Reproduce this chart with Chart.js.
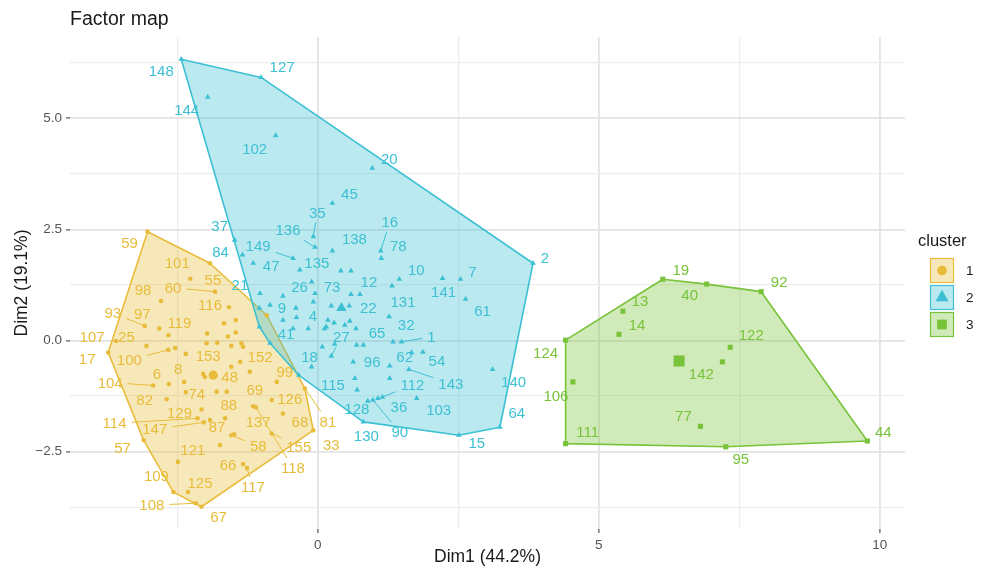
<!DOCTYPE html>
<html>
<head>
<meta charset="utf-8">
<script src="https://cdn.jsdelivr.net/npm/chart.js@4.4.1/dist/chart.umd.min.js"></script>
<style>
  html, body { margin: 0; padding: 0; background: #ffffff; }
  #wrap { width: 981px; height: 568px; }
</style>
</head>
<body>
<div id="wrap"><canvas id="factorMap" width="981" height="568"></canvas></div>
<script>
// ---- observations (Dim1, Dim2) per cluster; '' = name not printed ----
const cluster1Ids = ['59','101','98','93','97','119','107','17','25','100','','','55','60','116','','','','','','','','','','152','','','69','153','','','99','81','48','88','126','137','118','68','129','','87','58','','','155','33','66','117','67','104','6','8','74','82','114','147','57','121','109','125','108'];
const cluster1Dim1 = [-3.03,-2.27,-2.79,-3.08,-2.82,-2.66,-3.59,-3.73,-3.05,-2.66,-2.54,-2.35,-1.92,-1.83,-1.58,-1.46,-1.67,-1.97,-1.46,-1.60,-1.98,-1.79,-1.54,-1.36,-1.33,-1.54,-1.38,-1.21,-2.04,-2.01,-0.91,-0.73,-0.23,-1.80,-1.62,-0.82,-1.15,-1.10,-0.62,-2.07,-1.92,-1.65,-1.54,-1.49,-1.74,-0.82,-0.08,-1.33,-1.26,-2.07,-2.93,-2.65,-2.38,-2.35,-2.69,-2.14,-2.03,-3.10,-2.49,-2.57,-2.31,-2.17];
const cluster1Dim2 = [2.45,1.39,0.89,0.33,0.27,0.12,-0.01,-0.27,-0.12,-0.21,-0.17,-0.30,1.74,1.10,0.75,0.46,0.39,0.16,0.18,0.09,-0.06,-0.05,-0.12,-0.06,-0.14,-0.59,-0.48,-0.70,-0.75,-0.82,0.57,-0.93,-1.08,-1.15,-1.15,-1.34,-1.48,-1.50,-1.64,-1.55,-1.79,-1.75,-2.13,-2.11,-2.35,-2.09,-2.02,-2.78,-2.87,-3.74,-1.01,-0.98,-0.93,-1.16,-1.32,-1.75,-1.84,-2.24,-2.73,-3.41,-3.41,-3.66];

const cluster2Ids = ['148','127','144','102','20','45','2','141','7','61','140','64','15','130','35','136','138','149','16','78','','','10','131','26','73','12','','','','','22','4','','32','','','','','65','','41','1','','27','','','','','96','62','54','','143','115','','','112','36','90','103','128','18','37','84','47','135','21','9','','','','','',''];
const cluster2Dim1 = [-2.43,-1.01,-1.96,-0.75,0.97,0.26,3.83,2.22,2.54,2.63,3.11,3.24,2.51,0.81,-0.08,-0.05,0.26,-0.44,1.12,1.13,0.41,0.59,1.45,1.32,-0.11,-0.05,0.75,0.59,-0.62,-0.08,0.24,0.56,-0.39,-0.38,1.27,0.15,0.29,0.48,0.57,0.68,-0.17,-0.44,1.49,1.34,0.24,0.30,0.69,0.81,0.08,0.63,1.67,1.87,1.28,1.62,0.66,0.70,1.28,1.15,1.07,0.98,1.76,0.89,-0.11,-1.48,-1.34,-1.15,-0.32,-1.03,-0.85,-0.62,0.12,0.18,-1.04,-1.04,-0.85,-0.34];
const cluster2Dim2 = [6.33,5.92,5.48,4.61,3.88,3.09,1.74,1.40,1.38,0.93,-0.65,-1.95,-2.13,-1.83,2.34,2.10,2.02,1.85,2.02,1.85,1.57,1.57,1.38,1.23,1.32,1.06,1.04,1.04,1.00,0.87,0.78,0.78,0.73,0.52,0.54,0.31,0.40,0.35,0.44,0.27,0.27,0.27,-0.03,-0.03,-0.35,-0.08,-0.10,-0.10,-0.14,-0.48,-0.27,-0.26,-0.57,-0.65,-0.85,-1.11,-0.85,-1.27,-1.30,-1.34,-1.30,-1.36,-0.59,2.26,1.93,1.74,1.59,1.06,0.80,0.46,0.27,0.46,0.73,0.31,-0.06,-0.78];

const cluster3Ids = ['19','40','13','14','124','106','111','142','122','77','95','92','44'];
const cluster3Dim1 = [6.14,6.92,5.43,5.36,4.41,4.54,4.41,7.20,7.34,6.81,7.26,7.89,9.78];
const cluster3Dim2 = [1.38,1.27,0.66,0.14,0.01,-0.93,-2.32,-0.48,-0.15,-1.93,-2.39,1.10,-2.26];

// cluster centres
const clusterNames = ['1', '2', '3'];
const centreDim1 = [-1.86, 0.42, 6.43];
const centreDim2 = [-0.78, 0.73, -0.46];

// axis breaks
const xBreaks = [-2.5, 0, 2.5, 5, 7.5, 10];
const xLabelled = [0, 5, 10];
const yBreaks = [-3.75, -2.5, -1.25, 0, 1.25, 2.5, 3.75, 5, 6.25];
const yLabelled = [-2.5, 0, 2.5, 5];

// ---- layout of the repelled name labels (pixel offset from their point) ----
const labelNudge = {
  '59':[-18,11],'101':[-13,-16],'98':[-18,-11],'60':[-42,-4],'55':[3,17],'116':[-19,-2],'93':[-32,-13],'97':[-17,-15],
  '119':[11,-12],'107':[-24,-4],'25':[-20,-9],'17':[-21,6],'100':[-39,10],'153':[5,-18],'152':[17,10],'6':[-12,-10],
  '8':[-6,-13],'48':[13,-15],'104':[-43,-3],'82':[-22,1],'74':[11,2],'129':[-22,3],'114':[-83,5],'147':[-49,7],
  '57':[-21,8],'121':[15,-12],'109':[-17,-16],'125':[12,-9],'108':[-44,2],'67':[17,10],'69':[5,18],'88':[2,13],
  '99':[8,-10],'126':[18,-1],'137':[5,16],'68':[17,8],'81':[23,33],'87':[-8,9],'58':[27,11],'155':[27,13],
  '33':[18,15],'118':[37,61],'66':[-15,1],'117':[6,19],
  '148':[-20,12],'127':[21,-11],'144':[-21,13],'102':[-21,13],'20':[17,-9],'45':[17,-9],'35':[4,-24],'136':[-27,-17],
  '138':[22,-12],'16':[9,-29],'78':[17,-12],'149':[-35,-12],'135':[17,-7],'47':[18,3],'84':[-22,-3],'37':[-15,-14],
  '21':[-20,-9],'26':[-12,5],'73':[17,-7],'12':[9,-12],'10':[17,-9],'7':[12,-7],'141':[1,14],'61':[17,12],'2':[12,-5],
  '131':[11,16],'22':[19,2],'9':[12,3],'4':[17,8],'32':[17,8],'41':[-7,5],'65':[21,4],'1':[30,-5],'27':[10,-19],
  '18':[-2,-10],'96':[19,0],'62':[-7,4],'54':[14,9],'143':[42,14],'140':[21,12],'115':[-22,7],'112':[30,-12],
  '36':[21,9],'103':[22,12],'128':[-11,8],'130':[3,14],'90':[27,32],'15':[18,8],'64':[17,-14],
  '19':[18,-9],'40':[-17,11],'13':[17,-10],'14':[18,-9],'124':[-20,13],'106':[-17,14],'111':[22,-12],'142':[-21,12],
  '122':[21,-12],'77':[-17,-10],'95':[15,12],'92':[18,-10],'44':[16,-9]
};

// ---- styling ----
const FONT = "'Liberation Sans', Arial, Helvetica, sans-serif";
const colours = ['#E8BC3A', '#3DC0D3', '#78C33A'];
const fills = ['rgba(232,188,58,0.35)', 'rgba(61,192,211,0.35)', 'rgba(120,195,58,0.35)'];
const shapes = ['circle', 'triangle', 'rect'];
const pointSizes = [2.3, 3.3, 3.6];
const centreSizes = [4.6, 6.0, 7.8];

const clusters = [
  { ids: cluster1Ids, d1: cluster1Dim1, d2: cluster1Dim2 },
  { ids: cluster2Ids, d1: cluster2Dim1, d2: cluster2Dim2 },
  { ids: cluster3Ids, d1: cluster3Dim1, d2: cluster3Dim2 }
];
clusters.forEach(c => { c.points = c.d1.map((v, i) => ({ x: v, y: c.d2[i], id: c.ids[i] })); });

// convex hull (monotone chain) in data space
function convexHull(pts) {
  const p = pts.map(q => ({ x: q.x, y: q.y })).sort((a, b) => a.x - b.x || a.y - b.y);
  const cross = (o, a, b) => (a.x - o.x) * (b.y - o.y) - (a.y - o.y) * (b.x - o.x);
  const lower = [], upper = [];
  for (const q of p) {
    while (lower.length >= 2 && cross(lower[lower.length - 2], lower[lower.length - 1], q) <= 0) lower.pop();
    lower.push(q);
  }
  for (let i = p.length - 1; i >= 0; i--) {
    const q = p[i];
    while (upper.length >= 2 && cross(upper[upper.length - 2], upper[upper.length - 1], q) <= 0) upper.pop();
    upper.push(q);
  }
  upper.pop(); lower.pop();
  return lower.concat(upper);
}
clusters.forEach(c => { c.hull = convexHull(c.points); });

const datasets = [];
clusters.forEach((c, k) => {
  datasets.push({
    label: clusterNames[k], data: c.points, pointStyle: shapes[k],
    pointRadius: pointSizes[k], pointHoverRadius: pointSizes[k],
    backgroundColor: colours[k], borderColor: colours[k], borderWidth: 0, order: 2
  });
});
clusters.forEach((c, k) => {
  datasets.push({
    label: 'centre ' + clusterNames[k], data: [{ x: centreDim1[k], y: centreDim2[k] }], pointStyle: shapes[k],
    pointRadius: centreSizes[k], pointHoverRadius: centreSizes[k],
    backgroundColor: colours[k], borderColor: colours[k], borderWidth: 0, order: 1
  });
});

// hull polygons under the points
const hullPlugin = {
  id: 'hulls',
  beforeDatasetsDraw(chart) {
    const { ctx, chartArea: a, scales: { x, y } } = chart;
    ctx.save();
    ctx.beginPath(); ctx.rect(a.left, a.top, a.right - a.left, a.bottom - a.top); ctx.clip();
    clusters.forEach((c, k) => {
      ctx.beginPath();
      c.hull.forEach((q, i) => {
        const px = x.getPixelForValue(q.x), py = y.getPixelForValue(q.y);
        if (i === 0) ctx.moveTo(px, py); else ctx.lineTo(px, py);
      });
      ctx.closePath();
      ctx.fillStyle = fills[k]; ctx.fill();
      ctx.lineWidth = 1.6; ctx.strokeStyle = colours[k]; ctx.lineJoin = 'round'; ctx.stroke();
    });
    ctx.restore();
  }
};

// observation names with leader segments
const labelPlugin = {
  id: 'pointNames',
  afterDatasetsDraw(chart) {
    const { ctx, scales: { x, y } } = chart;
    ctx.save();
    ctx.font = `15px ${FONT}`;
    ctx.textAlign = 'center'; ctx.textBaseline = 'middle';
    clusters.forEach((c, k) => {
      c.points.forEach(q => {
        if (!q.id || !labelNudge[q.id]) return;
        const px = x.getPixelForValue(q.x), py = y.getPixelForValue(q.y);
        const [dx, dy] = labelNudge[q.id];
        const cx = px + dx, cy = py + dy;
        const hw = ctx.measureText(q.id).width / 2 + 5, hh = 10;
        const vx = px - cx, vy = py - cy;
        const t = Math.min(vx ? hw / Math.abs(vx) : Infinity, vy ? hh / Math.abs(vy) : Infinity);
        if (t < 1) {
          const ex = cx + vx * t, ey = cy + vy * t;
          const gap = Math.hypot(px - ex, py - ey);
          if (gap > 9) {
            ctx.beginPath(); ctx.moveTo(px, py); ctx.lineTo(ex, ey);
            ctx.lineWidth = 1; ctx.strokeStyle = colours[k]; ctx.stroke();
          }
        }
        ctx.fillStyle = colours[k];
        ctx.fillText(q.id, cx, cy + 1);
      });
    });
    ctx.restore();
  }
};

// plot title and cluster key
const decorPlugin = {
  id: 'decor',
  afterDraw(chart) {
    const { ctx } = chart;
    ctx.save();
    ctx.fillStyle = '#1a1a1a';
    ctx.font = `19.5px ${FONT}`;
    ctx.textAlign = 'left'; ctx.textBaseline = 'alphabetic';
    ctx.fillText('Factor map', 70, 25);

    ctx.font = `16.5px ${FONT}`;
    ctx.fillText('cluster', 918, 246);
    const bx = 930, bw = 24, bh = 25, by0 = 258;
    const keySizes = [4.8, 7.5, 6.8];
    clusterNames.forEach((name, k) => {
      const by = by0 + k * 27;
      ctx.fillStyle = fills[k];
      ctx.fillRect(bx, by, bw, bh);
      ctx.lineWidth = 1.2; ctx.strokeStyle = colours[k];
      ctx.strokeRect(bx + 0.5, by + 0.5, bw - 1, bh - 1);
      Chart.helpers.drawPoint(ctx, {
        pointStyle: shapes[k], radius: keySizes[k], rotation: 0, borderWidth: 0
      }, bx + bw / 2, by + bh / 2);
      ctx.fillStyle = colours[k];
      ctx.fill();
      ctx.fillStyle = '#1a1a1a';
      ctx.font = `13.5px ${FONT}`;
      ctx.textBaseline = 'middle';
      ctx.fillText(name, 966, by + bh / 2 + 1);
      ctx.textBaseline = 'alphabetic';
    });
    ctx.restore();
  }
};

const isIn = (arr, v) => arr.some(a => Math.abs(a - v) < 1e-9);
const fmtY = v => (v < 0 ? '\u2212' + Math.abs(v).toFixed(1) : v.toFixed(1));

new Chart(document.getElementById('factorMap'), {
  type: 'scatter',
  data: { datasets },
  options: {
    responsive: false,
    animation: false,
    devicePixelRatio: 1,
    layout: { padding: { left: 0, right: 76, top: 37, bottom: 0 } },
    plugins: { legend: { display: false }, tooltip: { enabled: false }, title: { display: false } },
    scales: {
      x: {
        type: 'linear', min: -4.41, max: 10.45,
        afterBuildTicks: s => { s.ticks = xBreaks.map(v => ({ value: v })); },
        afterFit: s => { s.height = 39; },
        border: { display: false },
        grid: {
          color: c => isIn(xLabelled, c.tick.value) ? '#e3e3e3' : '#ededed',
          lineWidth: c => isIn(xLabelled, c.tick.value) ? 1.8 : 1.3,
          tickColor: c => isIn(xLabelled, c.tick.value) ? '#555555' : 'rgba(0,0,0,0)',
          tickLength: 4, tickWidth: 1.2
        },
        ticks: {
          autoSkip: false, maxRotation: 0, padding: 4, color: '#555555',
          font: { size: 13.5, family: FONT },
          callback: v => isIn(xLabelled, v) ? String(v) : ''
        },
        title: { display: true, text: 'Dim1 (44.2%)', color: '#1a1a1a', font: { size: 17.5, family: FONT }, padding: { top: 0, bottom: 0 } }
      },
      y: {
        type: 'linear', min: -4.24, max: 6.83,
        afterBuildTicks: s => { s.ticks = yBreaks.map(v => ({ value: v })); },
        afterFit: s => { s.width = 70; },
        border: { display: false },
        grid: {
          color: c => isIn(yLabelled, c.tick.value) ? '#e3e3e3' : '#ededed',
          lineWidth: c => isIn(yLabelled, c.tick.value) ? 1.8 : 1.3,
          tickColor: c => isIn(yLabelled, c.tick.value) ? '#555555' : 'rgba(0,0,0,0)',
          tickLength: 4, tickWidth: 1.2
        },
        ticks: {
          autoSkip: false, padding: 4, color: '#555555',
          font: { size: 13.5, family: FONT },
          callback: v => isIn(yLabelled, v) ? fmtY(v) : ''
        },
        title: { display: true, text: 'Dim2 (19.1%)', color: '#1a1a1a', font: { size: 17.5, family: FONT }, padding: { top: 12, bottom: 0 } }
      }
    }
  },
  plugins: [hullPlugin, labelPlugin, decorPlugin]
});
</script>
</body>
</html>
